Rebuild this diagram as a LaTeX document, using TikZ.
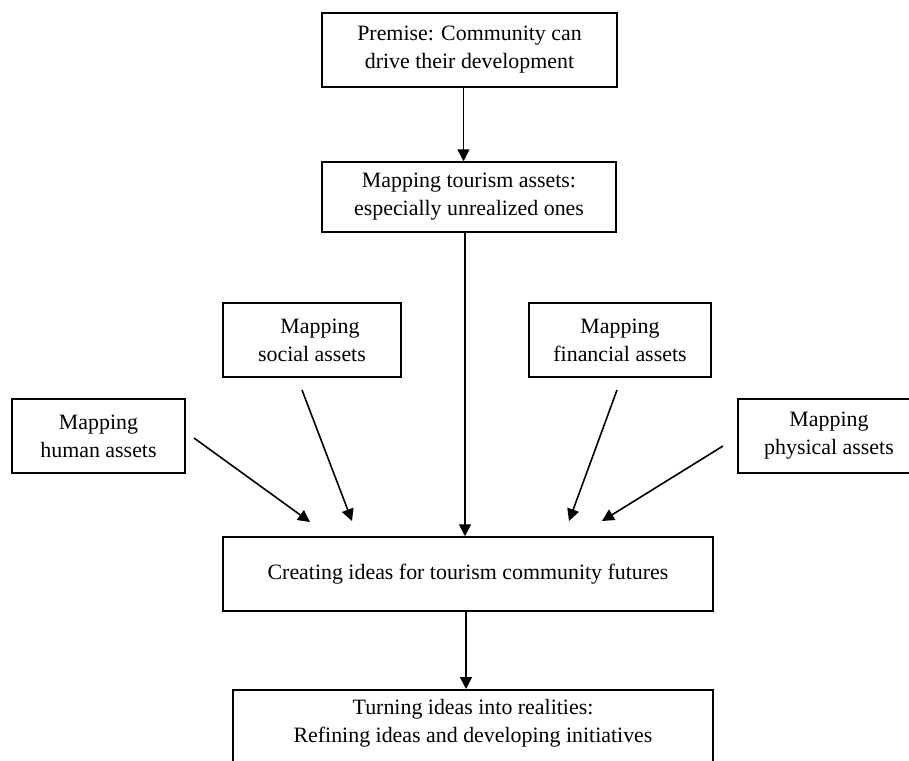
\documentclass[tikz,border=0pt]{standalone}
\usepackage{fontspec}
\setmainfont{Liberation Serif}
\usetikzlibrary{arrows.meta}
\begin{document}
\begin{tikzpicture}[x=1pt,y=-1pt,
  box/.style={draw, line width=1.5pt, inner sep=0pt, align=center,
    font=\fontsize{21.9}{28}\selectfont},
  arr/.style={line width=1.6pt, -{Triangle[length=12pt,width=12pt]}}]
\useasboundingbox (0,0) rectangle (909,760);
\clip (0,0) rectangle (909,760);
\fill[white] (0,0) rectangle (909,760);
\node[box, minimum width=295pt, minimum height=74pt] (premise) at (469.5,50)
  {Premise: Community can\\drive their development};
\node[box, minimum width=294pt, minimum height=70pt] (tour) at (469,197)
  {Mapping tourism assets:\\especially unrealized ones};
\node[box, minimum width=178pt, minimum height=74pt] (social) at (312,340)
  {\hspace*{16pt}Mapping\\social assets};
\node[box, minimum width=173pt, minimum height=74pt] (human) at (98.5,436)
  {Mapping\\human assets};
\node[box, minimum width=182pt, minimum height=74pt] (financial) at (620,340)
  {Mapping\\financial assets};
\node[box, minimum width=182pt, minimum height=74pt] (physical) at (829,436)
  {Mapping\\physical assets};
\node[box, minimum width=490pt, minimum height=74pt] (create) at (468,574)
  {Creating ideas for tourism community futures};
\node[box, minimum width=480pt, minimum height=120pt, anchor=north] (turn) at (473,689)
  {Turning ideas into realities:\\Refining ideas and developing initiatives\\[30pt]};
\coordinate (hs) at (194,438); \coordinate (he) at (310,522);
\coordinate (ss) at (302,390); \coordinate (se) at (352,521);
\coordinate (fs) at (617,390); \coordinate (fe) at (569,521);
\coordinate (ps) at (723,446); \coordinate (pe) at (602,521);
\draw[arr] ([xshift=-6pt]premise.south) -- ([xshift=-6pt]premise.south |- tour.north);
\draw[arr] ([xshift=-4pt]tour.south) -- ([xshift=-4pt]tour.south |- create.north);
\draw[arr] ([xshift=-2pt]create.south) -- ([xshift=-2pt]create.south |- turn.north);
\draw[arr] (hs) -- (he);
\draw[arr] (ss) -- (se);
\draw[arr] (fs) -- (fe);
\draw[arr] (ps) -- (pe);
\end{tikzpicture}
\end{document}
